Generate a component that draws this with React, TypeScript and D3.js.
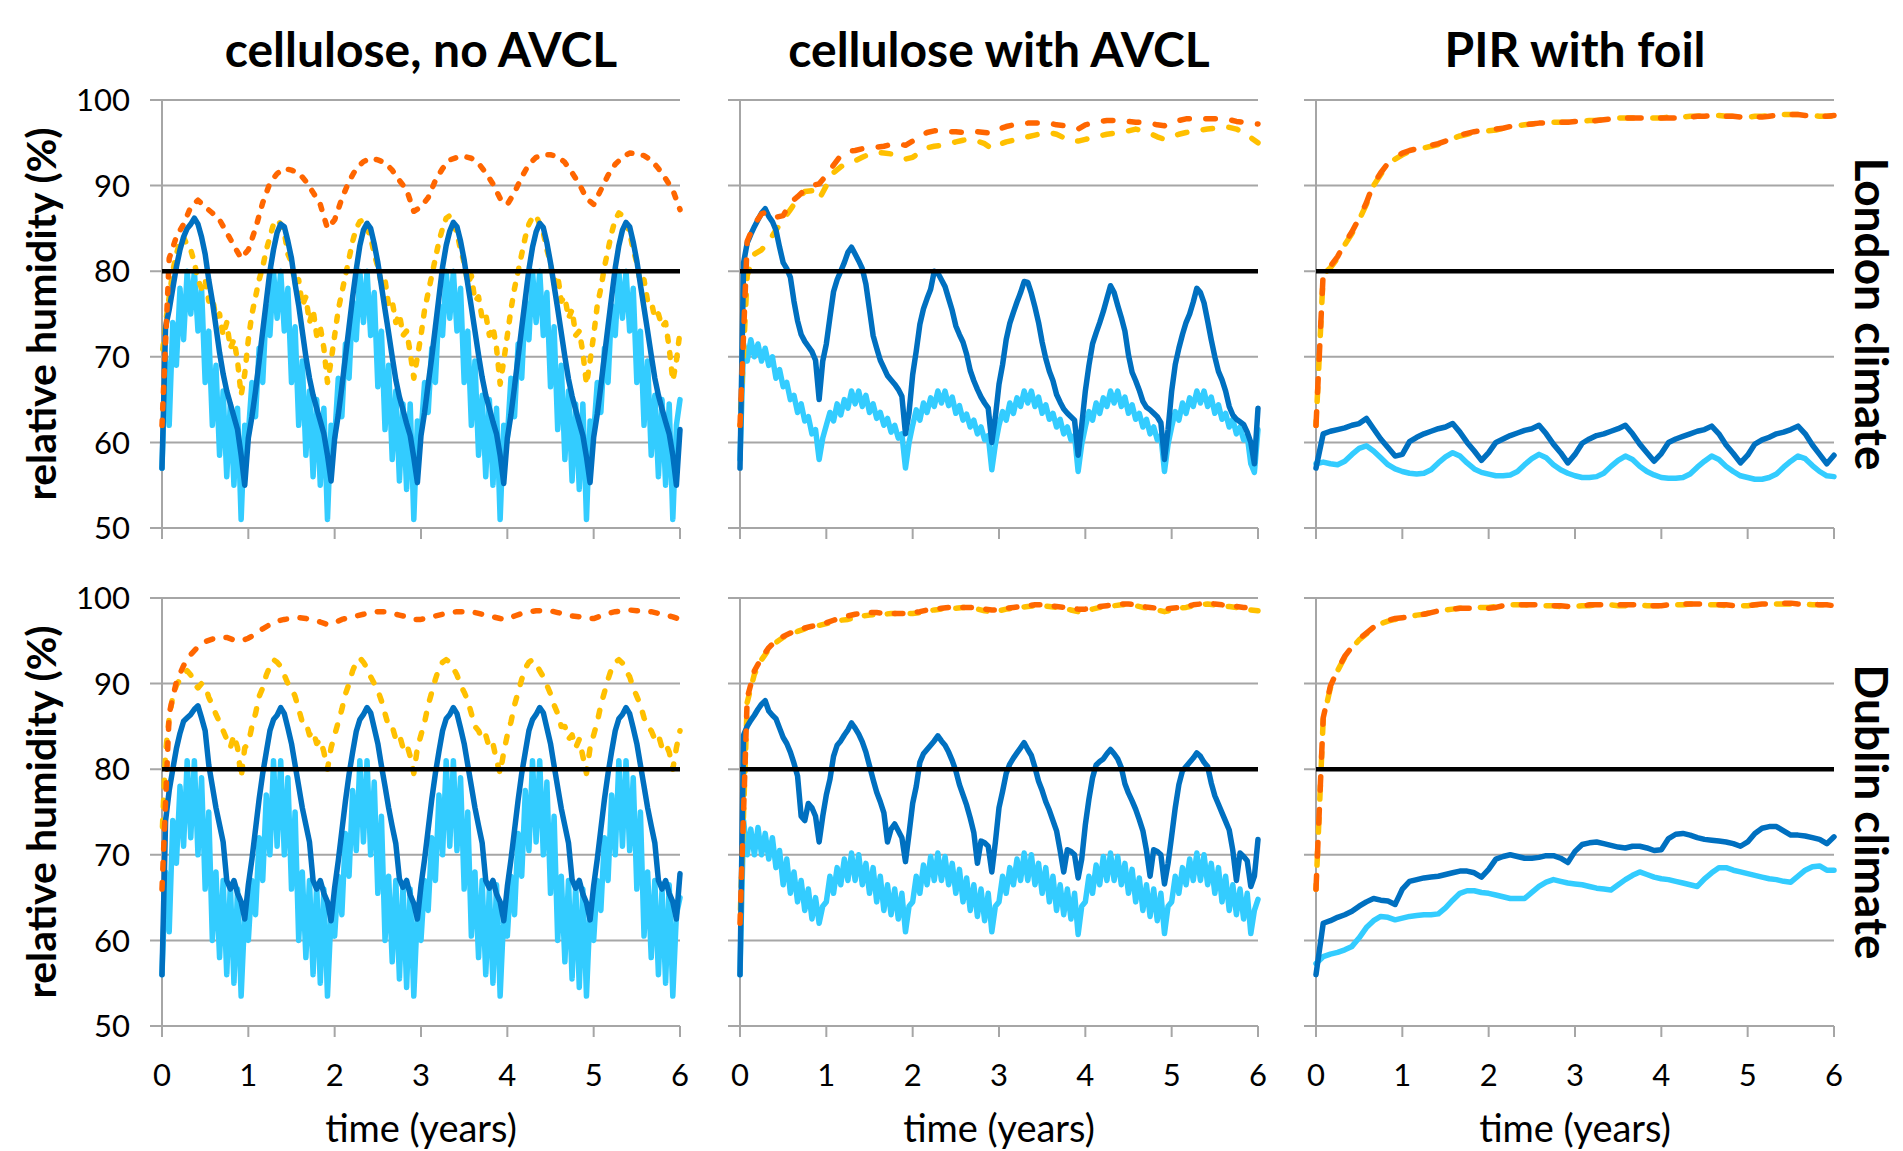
import React from 'react'
import * as d3 from 'd3'

/* figure size and the 2 x 3 grid of panels */
const width = 1903
const height = 1151
const panelLeft = [162, 740, 1316]
const panelTop = [100, 598]
const panelW = 518
const panelH = 428
const fontFamily = 'Lato, "Open Sans", sans-serif'

const columnTitles = ['cellulose, no AVCL', 'cellulose with AVCL', 'PIR with foil']
const rowTitles = ['London climate', 'Dublin climate']
const yTicks = [50, 60, 70, 80, 90, 100]
const xTicks = [0, 1, 2, 3, 4, 5, 6]
const threshold = 80
const years = 6

const colors = {
    orange: '#FF6600',
    yellow: '#FFC000',
    dark: '#0070C0',
    light: '#33CCFF',
}

/* ---------- London, cellulose no AVCL (values every 1/24 or 1/12 year) ---------- */
const lonNoAvclLight = [
    57, 70, 62, 74, 69, 78, 72, 80, 75, 80, 73, 78, 67, 73, 62, 69, 58.5, 66, 56, 64.5, 55, 64, 51, 62,
    61, 67, 63, 71, 67, 76, 72.5, 80, 74.5, 80, 73, 78, 67, 73.5, 62, 69.5, 58.5, 66, 56, 65, 55, 64, 51, 62,
    60.5, 67.5, 63, 71.5, 67.5, 76.5, 72, 80, 74, 80, 72.5, 77.5, 66.5, 73, 61.5, 69, 58, 66, 55.5, 64.5, 54.5, 64.5, 51, 62.5,
    61, 67, 63.5, 71, 67, 76, 72.5, 80, 74.5, 80, 73, 78, 67, 73, 62, 69.5, 58.5, 65.5, 56, 65, 55, 64, 51, 62,
    60.5, 67.5, 63, 71.5, 67.5, 76.5, 72, 80, 74, 80, 72.5, 77.5, 66.5, 73.5, 61.5, 69, 58, 66, 55.5, 64.5, 54.5, 64.5, 51, 62.5,
    61, 67, 63.5, 71, 67, 76, 72.5, 80, 74.5, 80, 73, 78, 67, 73, 62, 69.5, 58.5, 65.5, 56, 65, 55, 64.5, 51, 62,
    65,
]
const lonNoAvclYellow = [
    70, 74, 77, 80, 82, 83.5, 84, 83, 82.5, 81, 79, 78, 79, 76.5, 77, 74.5, 75, 72.5, 74, 71, 72, 69.5, 65.5, 68,
    72, 75, 77, 79, 80.5, 82.5, 84, 85.5, 86, 85.5, 84.5, 82, 81, 78.5, 79, 76, 77, 74, 75.5, 72.5, 73.5, 71, 67, 69.5,
    72.5, 75.5, 77.5, 79.5, 81.5, 83.5, 85, 85.8, 86, 85, 84, 82, 80.5, 78.5, 79, 76, 76.5, 74, 75, 72.5, 73, 70.5, 67.5, 70,
    72.5, 75.5, 77.5, 79.5, 81.5, 83.5, 85, 86.2, 86.5, 85.5, 84.5, 82.5, 81, 78.5, 79.5, 76.5, 77, 74.5, 75, 72.5, 73.5, 71, 66.8, 69.5,
    72.5, 75.5, 78, 80, 82, 84, 85.5, 86.3, 86.5, 85.5, 84.5, 82.5, 81, 78.5, 79.5, 76.5, 77, 74.5, 75.5, 72.5, 73, 70.5, 66.8, 69.5,
    72.5, 76, 78, 80.5, 82.5, 84.5, 86, 86.8, 86.5, 85.5, 84.5, 82.5, 81, 78.5, 79, 76.5, 76.5, 74.5, 75, 73.5, 74, 71, 67.2, 69.5,
    73,
]
const lonNoAvclDark = [
    57, 73.5, 75.5, 78, 80.5, 82.5, 84, 85, 85.5, 86.2, 85.5, 84, 82, 79, 76.5, 73.5, 70.5, 68, 66, 64.5, 63, 61.5, 58.5, 55,
    60.5, 63, 66, 69.5, 73, 76.5, 80, 82.5, 84.5, 85.5, 85.2, 83.5, 81.5, 78.5, 76, 73, 70, 67.5, 65.5, 64, 62.5, 61, 58.5, 55.5,
    60.5, 63.2, 66.5, 70, 73.5, 77, 80.2, 83, 84.8, 85.6, 85, 83.2, 81, 78.3, 75.5, 72.8, 70, 67.3, 65.3, 63.8, 62.2, 60.8, 58.2, 55.3,
    60.8, 63.5, 66.8, 70, 73.5, 77, 80.5, 83, 84.7, 85.7, 85.2, 83.5, 81.3, 78.5, 75.8, 73, 70.2, 67.6, 65.5, 64, 62.4, 61, 58.5, 55.2,
    60.5, 63.2, 66.5, 70, 73.4, 76.8, 80.2, 82.8, 84.6, 85.6, 85.1, 83.3, 81, 78.3, 75.6, 72.8, 70, 67.4, 65.4, 63.8, 62.3, 60.8, 58.3, 55.3,
    60.6, 63.3, 66.6, 70.1, 73.6, 77, 80.4, 83, 84.8, 85.7, 85.2, 83.4, 81.2, 78.4, 75.7, 73, 70.2, 67.5, 65.5, 63.9, 62.4, 61, 58.5, 55,
    61.5,
]
const lonNoAvclOrange = [
    62, 81.5, 84, 85.5, 87.5, 88.3, 87.5, 86.8, 86, 84.5, 83, 81.5,
    82.5, 85, 88, 90.3, 91.4, 92, 91.8, 91.5, 90.5, 89.2, 87.8, 85,
    86, 88.5, 90.5, 92, 92.8, 93.2, 93, 92.7, 91.8, 90.6, 89.5, 87,
    87.5, 88.6, 90.6, 92, 93, 93.3, 93.4, 93.2, 92.6, 91.5, 90.2, 88.5,
    87.8, 89.2, 91, 92.5, 93.3, 93.6, 93.6, 93.4, 92.7, 91.5, 90.2, 88.5,
    87.8, 89.5, 91.2, 92.5, 93.3, 93.8, 93.7, 93.5, 93, 92, 90.8, 89.5,
    87.2,
]

/* ---------- London, cellulose with AVCL ---------- */
const lonAvclLight = [
    58, 71.5, 69.5, 72, 70, 71.5, 69.5, 71, 69, 70, 67.5, 68.5, 66.5, 67, 65, 65.5, 63.5, 64.5, 62.5, 63, 61, 61.5, 58, 60.5,
    62, 63.5, 62.5, 64.5, 63.2, 65, 64, 66, 64.5, 66, 64.2, 65.5, 63.5, 64.5, 62.8, 63.5, 62, 62.8, 61.2, 62, 60.5, 61, 57, 60,
    62, 63.8, 62.6, 64.6, 63.5, 65.2, 64.2, 66, 64.6, 66, 64.3, 65.3, 63.4, 64.3, 62.6, 63.3, 61.8, 62.6, 61, 61.8, 60.3, 60.8, 56.8, 59.8,
    62, 63.6, 62.6, 64.6, 63.4, 65.2, 64.2, 66, 64.6, 66, 64.2, 65.3, 63.4, 64.4, 62.7, 63.4, 61.8, 62.7, 61, 61.8, 60.3, 60.8, 56.6, 59.8,
    61.8, 63.6, 62.6, 64.6, 63.4, 65.2, 64.2, 66, 64.6, 66, 64.2, 65.3, 63.4, 64.4, 62.7, 63.4, 61.8, 62.7, 61, 61.8, 60.3, 60.8, 56.6, 59.8,
    61.8, 63.6, 62.6, 64.6, 63.4, 65.2, 64.2, 66, 64.6, 66, 64.2, 65.3, 63.4, 64.4, 62.7, 63.4, 61.8, 62.7, 61, 61.8, 60.3, 60.8, 57.5, 56.5,
    61.5,
]
const lonAvclYellow = [
    62, 79.5, 82, 82.5, 83.5, 84.8, 86, 87.2, 88.4, 89.3, 89.4, 88.4,
    90, 91.5, 92.2, 92.6, 92.9, 93.3, 93.7, 93.9, 93.8, 93.7, 93.4, 93.1,
    93.3, 93.9, 94.4, 94.6, 94.7, 94.9, 95.1, 95.3, 95.4, 95.2, 94.9, 94.3,
    94.8, 95.1, 95.3, 95.5, 95.7, 95.9, 96.1, 96.2, 96, 95.6, 95.2, 95.2,
    95.4, 95.6, 95.8, 96, 96.1, 96.2, 96.4, 96.6, 96.4, 96.1, 95.7, 95.4,
    95.7, 96, 96.2, 96.4, 96.5, 96.6, 96.7, 96.9, 96.8, 96.6, 96.2, 95.6,
    95,
]
const lonAvclDark = [
    57, 81, 83.3, 84.3, 85.2, 86, 86.8, 87.3, 86.4, 85.8, 84.8, 82.8, 81, 80.3, 79.3, 76.5, 74.2, 72.6, 71.8, 71.2, 70.6, 69.6, 65, 69.5,
    71.5, 74.6, 77.6, 79, 80, 81, 82.2, 82.8, 82, 81.2, 80.3, 78.5, 75.5, 72.5, 71, 69.6, 68.7, 67.8, 67.3, 66.8, 66.2, 65.4, 61, 63.5,
    67.9, 70.7, 73.8, 75.6, 76.8, 77.9, 80, 79.8, 79, 78.2, 76.8, 75.4, 73.6, 72.6, 71.7, 70.3, 68.4, 67.2, 66.2, 65.3, 64.6, 64, 60, 63,
    66.8, 69.1, 72, 73.9, 75.2, 76.4, 77.5, 78.8, 78.7, 77.4, 75.8, 74, 71.7, 69.8, 68.3, 67.2, 65.6, 64.7, 63.9, 63.4, 63, 62.6, 58.5, 62,
    66, 69, 71.5, 72.8, 74, 75.3, 76.8, 78.3, 77.5, 76, 74.6, 73, 70.2, 68.2, 67.2, 66.1, 64.8, 64.1, 63.8, 63.4, 63, 62.3, 58, 61.5,
    66, 69.1, 71, 72.6, 74, 75, 76.4, 78, 77.5, 76.3, 74.2, 72, 70, 68.3, 67.3, 66, 64.2, 63.2, 62.7, 62.4, 62.1, 61.2, 60, 57.5,
    64,
]
const lonAvclOrange = [
    62, 83.5, 85.5, 86.7, 87, 86.3, 86.5, 88, 88.7, 89.5, 90, 90.2,
    91.2, 92.4, 93.5, 94, 94.1, 94.3, 94.4, 94.5, 94.6, 94.8, 94.9, 94.7,
    95.2, 95.8, 96.2, 96.4, 96.4, 96.3, 96.3, 96.2, 96.3, 96.3, 96.2, 96.1,
    96.6, 96.9, 97.1, 97.2, 97.3, 97.3, 97.3, 97.3, 97.1, 97, 96.8, 96.6,
    97.1, 97.3, 97.5, 97.6, 97.6, 97.6, 97.5, 97.4, 97.4, 97.3, 97.1, 97,
    97.4, 97.6, 97.8, 97.8, 97.8, 97.8, 97.8, 97.8, 97.7, 97.5, 97.4, 97.3,
    97.2,
]

/* ---------- London, PIR with foil ---------- */
const lonPirLight = [
    57.5, 57.7, 57.5, 57.4, 57.8, 58.6, 59.3, 59.6, 59, 58.2, 57.4, 56.9,
    56.6, 56.4, 56.3, 56.4, 56.8, 57.6, 58.3, 58.8, 58.4, 57.6, 56.9, 56.5,
    56.3, 56.1, 56.1, 56.2, 56.6, 57.4, 58.1, 58.6, 58.2, 57.4, 56.8, 56.4,
    56.1, 55.9, 55.9, 56, 56.4, 57.2, 57.9, 58.4, 58, 57.2, 56.6, 56.2,
    55.9, 55.8, 55.8, 55.9, 56.3, 57.1, 57.8, 58.4, 58, 57.2, 56.6, 56.1,
    55.9, 55.7, 55.7, 55.9, 56.3, 57.1, 57.8, 58.4, 58.1, 57.3, 56.6, 56.1,
    56,
]
const lonPirYellow = [
    62, 79.6, 80.4, 81.5, 83.1, 84.4, 86, 87.8, 90, 91.3, 92.4, 93.1,
    93.6, 94, 94.2, 94.4, 94.6, 94.8, 95.1, 95.5, 95.8, 96, 96.2, 96.3,
    96.4, 96.5, 96.7, 96.9, 97, 97.1, 97.2, 97.3, 97.3, 97.4, 97.4, 97.4,
    97.5, 97.5, 97.6, 97.6, 97.7, 97.8, 97.9, 97.9, 97.9, 97.9, 97.9, 97.9,
    97.9, 98, 98, 98, 98.1, 98.1, 98.2, 98.2, 98.2, 98.1, 98.1, 98,
    98, 98.1, 98.1, 98.2, 98.3, 98.3, 98.3, 98.3, 98.2, 98.2, 98.1, 98.1,
    98.1,
]
const lonPirDark = [
    57, 61, 61.3, 61.5, 61.7, 62, 62.2, 62.8, 61.6, 60.4, 59.4, 58.4,
    58.6, 60.1, 60.6, 61, 61.3, 61.6, 61.8, 62.2, 61.2, 60, 59, 57.9,
    58.8, 60, 60.4, 60.8, 61.1, 61.4, 61.6, 62, 61, 59.8, 58.8, 57.6,
    58.6, 59.9, 60.4, 60.8, 61, 61.3, 61.6, 62, 61, 59.8, 58.8, 57.8,
    58.7, 60, 60.4, 60.7, 61, 61.3, 61.5, 61.9, 61, 59.7, 58.7, 57.6,
    58.5, 59.8, 60.3, 60.6, 61, 61.2, 61.5, 61.9, 61, 59.7, 58.6, 57.5,
    58.5,
]
const lonPirOrange = [
    62, 79.8, 80.6, 81.7, 83.3, 84.6, 86.2, 88, 90.2, 91.5, 92.6, 93.3,
    93.8, 94.1, 94.3, 94.5, 94.7, 94.9, 95.2, 95.6, 95.9, 96.1, 96.3, 96.4,
    96.5, 96.6, 96.7, 96.9, 97, 97.1, 97.2, 97.3, 97.3, 97.4, 97.4, 97.4,
    97.5, 97.5, 97.5, 97.6, 97.7, 97.8, 97.8, 97.9, 97.9, 97.9, 97.9, 97.9,
    97.9, 97.9, 97.9, 98, 98, 98.1, 98.1, 98.2, 98.1, 98.1, 98.1, 98,
    98, 98, 98, 98.1, 98.2, 98.3, 98.3, 98.3, 98.2, 98.2, 98.1, 98.1,
    98.2,
]

/* ---------- Dublin, cellulose no AVCL ---------- */
const dubNoAvclLight = [
    56, 68, 61, 74, 69, 78, 71, 81, 72, 81, 70, 79, 66, 75, 60, 68, 58, 67, 56, 66.5, 55, 66, 53.5, 63,
    60, 67, 63, 72, 67, 77, 70, 81, 71, 81, 70, 79, 66, 75, 60, 68, 58, 67, 56, 66.5, 55, 66, 53.5, 63,
    60.5, 67.5, 63, 72.5, 67.5, 77.5, 70.5, 81, 71.5, 81, 70, 78.5, 65.5, 74.5, 60, 67.5, 57.5, 67, 55.5, 66.5, 54.5, 66, 53.5, 63.5,
    60, 67, 63.5, 72, 67, 77, 70, 81, 71, 81, 70.5, 79, 66, 75, 60.5, 68, 58, 67, 56, 66, 55, 66.5, 53.5, 63,
    60.5, 67.5, 63, 72.5, 67.5, 77.5, 70.5, 81, 71.5, 81, 70, 78.5, 65.5, 74.5, 60, 67.5, 57.5, 67, 55.5, 66.5, 54.5, 66, 53.5, 63.5,
    60, 67, 63.5, 72, 67, 77, 70, 81, 71, 81, 70.5, 79, 66, 75, 60.5, 68, 58, 67, 56, 66, 55, 66.5, 53.5, 63,
    65,
]
const dubNoAvclYellow = [
    72, 82, 86, 88.5, 89.8, 90.5, 91, 91.5, 91, 90, 89.5, 90, 89.8, 88.4, 87.5, 86.4, 85.5, 84.5, 83.5, 82.5, 84, 82.5, 79, 82.5,
    83, 85, 86.5, 88.5, 89.5, 91, 92, 92.8, 92.5, 92, 91, 90, 89.5, 88.5, 87, 85.5, 85.5, 84, 84.5, 83, 83.5, 82, 80, 82.5,
    84, 85.5, 87, 88.8, 90, 91.5, 92.5, 93, 92.5, 91.8, 90.8, 90, 89.2, 88, 86.5, 85, 85, 83.5, 84, 82.5, 83, 81.5, 79.5, 82.5,
    84, 85.5, 87.5, 89, 90.5, 91.8, 92.5, 92.8, 92.5, 91.8, 91, 89.8, 89, 88, 86.5, 85, 84.5, 83.5, 84, 82.5, 83, 81, 79.5, 82,
    84, 85.5, 87.5, 89, 90.5, 91.8, 92.5, 92.8, 92.3, 91.5, 90.8, 89.8, 88.8, 87.5, 86.5, 85, 85, 83.5, 84, 82.5, 83.5, 81.5, 79.5, 82.5,
    84, 85.5, 87.5, 89, 90.5, 91.8, 92.5, 92.8, 92.4, 91.5, 90.8, 89.5, 88.5, 87.5, 86, 85, 84.5, 83.5, 84, 82.5, 83, 82, 80, 82.5,
    84.5,
]
const dubNoAvclDark = [
    56, 74, 77.5, 80, 82.4, 84.2, 85.6, 86, 86.4, 87, 87.4, 86, 84.5, 80.5, 78, 75.5, 73.5, 71.5, 67, 66, 67, 65.5, 64.5, 62.5,
    66.5, 69.5, 73, 76.5, 79.5, 82, 84.5, 85.8, 86.3, 87.2, 86.5, 84.8, 83, 80.5, 78, 75.5, 73.5, 71.5, 67, 66, 67, 65.5, 64.5, 62.3,
    66.2, 69.3, 72.8, 76.3, 79.4, 82, 84.4, 85.8, 86.4, 87.2, 86.6, 84.8, 83, 80.4, 78, 75.5, 73.3, 71.3, 67.2, 66.2, 67, 65.3, 64.3, 62.5,
    66.4, 69.5, 73, 76.5, 79.5, 82.1, 84.5, 85.9, 86.4, 87.2, 86.5, 84.8, 83, 80.5, 78, 75.5, 73.4, 71.4, 67, 66.1, 67, 65.4, 64.5, 62.3,
    66.3, 69.4, 72.9, 76.4, 79.5, 82, 84.5, 85.8, 86.4, 87.2, 86.6, 84.8, 83, 80.4, 77.9, 75.4, 73.4, 71.4, 67.1, 66.1, 67, 65.4, 64.4, 62.4,
    66.4, 69.5, 73, 76.5, 79.5, 82.1, 84.5, 85.9, 86.4, 87.2, 86.5, 84.8, 83, 80.5, 78, 75.5, 73.4, 71.4, 67, 66, 67, 65.5, 64.5, 62.5,
    67.8,
]
const dubNoAvclOrange = [
    66, 86.5, 90.2, 92.1, 93.4, 94.3, 94.9, 95.2, 95.4, 95.4, 95.1, 95,
    95.3, 95.8, 96.4, 96.9, 97.3, 97.5, 97.6, 97.7, 97.6, 97.4, 97.2, 96.9,
    97.1, 97.5, 97.7, 97.9, 98.1, 98.3, 98.4, 98.4, 98.2, 98, 97.8, 97.5,
    97.5, 97.7, 97.9, 98.1, 98.3, 98.4, 98.4, 98.4, 98.2, 98, 97.8, 97.6,
    97.5, 97.9, 98.2, 98.4, 98.5, 98.5, 98.5, 98.3, 98.1, 97.9, 97.8, 97.6,
    97.6, 97.9, 98.2, 98.4, 98.5, 98.6, 98.5, 98.5, 98.4, 98.2, 98, 97.8,
    97.5,
]

/* ---------- Dublin, cellulose with AVCL ---------- */
const dubAvclLight = [
    56, 74, 70, 73, 70, 73.2, 70, 72.5, 69.5, 72, 68.5, 70.5, 66.5, 69.5, 65.5, 68, 64.5, 67, 63.5, 66, 62.5, 65, 62, 64,
    64.5, 67.5, 65.5, 68.5, 66.5, 69.5, 67, 70.2, 67, 70, 66.5, 69, 65.5, 68.5, 64.5, 67.5, 63.5, 66.5, 63, 66, 62.5, 65.5, 61, 64,
    64.5, 67.5, 65.5, 68.8, 66.5, 69.8, 67, 70.2, 67, 69.8, 66.5, 69, 65.5, 68.3, 64.5, 67.3, 63.5, 66.5, 62.8, 66, 62.3, 65.5, 61, 64,
    64.5, 67.5, 65.5, 68.5, 66.5, 69.5, 67, 70.2, 67, 70, 66.5, 69, 65.5, 68.5, 64.5, 67.5, 63.5, 66.5, 63, 66, 62.5, 65.5, 60.7, 64,
    64.5, 67.5, 65.5, 68.8, 66.5, 69.8, 67, 70.2, 67, 69.8, 66.5, 69, 65.5, 68.3, 64.5, 67.3, 63.5, 66.5, 62.8, 66, 62.3, 65.5, 60.8, 64,
    64.5, 67.5, 65.5, 68.5, 66.5, 69.5, 67, 70.2, 67, 70, 66.5, 69, 65.5, 68.5, 64.5, 67.5, 63.5, 66.5, 63, 66, 62.5, 65.5, 60.8, 63.5,
    64.8,
]
const dubAvclYellow = [
    62, 87.8, 91.1, 92.8, 94, 94.8, 95.4, 95.8, 96.1, 96.4, 96.6, 96.8,
    97, 97.2, 97.4, 97.5, 97.7, 97.9, 98, 98.1, 98.1, 98.2, 98.2, 98.2,
    98.2, 98.3, 98.5, 98.6, 98.7, 98.8, 98.8, 98.9, 98.8, 98.7, 98.5, 98.4,
    98.5, 98.7, 98.8, 98.9, 99, 99.1, 99.1, 99, 98.9, 98.8, 98.6, 98.4,
    98.5, 98.7, 98.9, 99, 99.1, 99.2, 99.2, 99.1, 98.9, 98.8, 98.6, 98.4,
    98.6, 98.8, 98.9, 99.1, 99.2, 99.3, 99.2, 99.1, 99, 98.9, 98.8, 98.6,
    98.5,
]
const dubAvclDark = [
    56, 84, 85, 85.7, 86.3, 87, 87.6, 88, 86.8, 86.3, 85.9, 84.8, 83.7, 83, 82, 80.7, 79.2, 74.5, 74, 76, 75.5, 74.5, 71.5, 74.5,
    77, 78.8, 81.5, 82.8, 83.3, 84, 84.6, 85.4, 84.8, 84.1, 83.2, 82, 80.4, 78.8, 77.3, 76.2, 74.9, 71.5, 73, 73.6, 72.8, 72, 69.2, 72.5,
    76, 78, 80.8, 81.8, 82.3, 82.8, 83.3, 83.9, 83.3, 82.8, 82, 81, 79.8, 78.2, 77, 75.8, 74.3, 72.6, 69, 71.6, 71.4, 71, 68, 71.5,
    75.5, 77.4, 79.5, 80.6, 81.3, 81.9, 82.5, 83.1, 82.3, 81.6, 80.2, 78.6, 77.5, 76.2, 75.2, 74, 72.8, 70.5, 68, 70.6, 70.4, 70, 67.3, 69.5,
    73.5, 76.5, 79, 80.5, 80.9, 81.2, 81.8, 82.3, 81.8, 81.2, 80.2, 78.3, 77.2, 76.3, 75.3, 74.1, 72.8, 70.5, 67.5, 70.6, 70.4, 70, 66.6, 69,
    72.2, 75.5, 78.2, 79.8, 80.3, 80.8, 81.3, 81.9, 81.5, 80.8, 80.3, 78.4, 76.9, 75.9, 74.9, 73.9, 72.9, 70.5, 67, 70.2, 69.8, 69.3, 66.3, 67.5,
    71.8,
]
const dubAvclOrange = [
    62, 88.3, 91.5, 93, 94.2, 95, 95.5, 95.9, 96.2, 96.5, 96.7, 96.9,
    97.1, 97.4, 97.7, 97.9, 98.1, 98.2, 98.3, 98.3, 98.2, 98.2, 98.2, 98.2,
    98.3, 98.4, 98.6, 98.7, 98.8, 98.9, 98.9, 98.9, 98.9, 98.8, 98.7, 98.6,
    98.6, 98.8, 98.9, 99, 99.1, 99.2, 99.2, 99.1, 99, 98.9, 98.8, 98.7,
    98.7, 98.8, 99, 99.1, 99.2, 99.3, 99.3, 99.2, 99, 98.9, 98.8, 98.7,
    98.8, 98.9, 99, 99.2, 99.3, 99.4, 99.3, 99.2, 99.1, 99, 98.9, 98.8,
    98.6,
]

/* ---------- Dublin, PIR with foil ---------- */
const dubPirLight = [
    57.3, 58.1, 58.4, 58.6, 58.9, 59.3, 60.3, 61.5, 62.3, 62.8, 62.7, 62.4,
    62.6, 62.8, 62.9, 63, 63, 63.1, 63.8, 64.7, 65.5, 65.8, 65.8, 65.6,
    65.5, 65.3, 65.1, 64.9, 64.9, 64.9, 65.6, 66.3, 66.8, 67.1, 66.9, 66.7,
    66.6, 66.5, 66.3, 66.1, 66, 65.9, 66.5, 67.1, 67.6, 68, 67.7, 67.4,
    67.2, 67.1, 66.9, 66.7, 66.5, 66.3, 67.2, 67.9, 68.5, 68.5, 68.2, 68,
    67.8, 67.6, 67.4, 67.2, 67.1, 66.9, 66.8, 67.5, 68.2, 68.6, 68.7, 68.2,
    68.2,
]
const dubPirYellow = [
    66, 85.8, 89.5, 91.5, 93.1, 94.2, 95.1, 95.8, 96.5, 97, 97.3, 97.5,
    97.6, 97.8, 98, 98.1, 98.3, 98.5, 98.6, 98.7, 98.8, 98.8, 98.8, 98.9,
    98.9, 99, 99.1, 99.2, 99.2, 99.2, 99.1, 99.1, 99.1, 99.1, 99, 99,
    99, 99.1, 99.1, 99.2, 99.2, 99.2, 99.1, 99.1, 99.2, 99.2, 99.1, 99.1,
    99.1, 99.1, 99.2, 99.2, 99.3, 99.3, 99.2, 99.2, 99.2, 99.1, 99.1, 99.1,
    99.1, 99.2, 99.2, 99.3, 99.3, 99.3, 99.3, 99.3, 99.3, 99.2, 99.2, 99.2,
    99.1,
]
const dubPirDark = [
    56, 62, 62.3, 62.7, 63, 63.4, 64, 64.5, 64.9, 64.7, 64.6, 64.2,
    66, 66.9, 67.1, 67.3, 67.4, 67.5, 67.7, 67.9, 68.1, 68.1, 67.9, 67.4,
    68.3, 69.5, 69.8, 70, 69.8, 69.6, 69.6, 69.7, 69.9, 69.9, 69.6, 69.1,
    70.4, 71.2, 71.4, 71.5, 71.3, 71.1, 70.9, 70.8, 71, 71, 70.8, 70.5,
    70.6, 71.9, 72.4, 72.5, 72.3, 72, 71.8, 71.7, 71.6, 71.5, 71.3, 71,
    71.5, 72.5, 73.1, 73.3, 73.3, 72.8, 72.3, 72.3, 72.2, 72, 71.8, 71.3,
    72.1,
]
const dubPirOrange = [
    66, 86, 89.7, 91.6, 93.2, 94.3, 95.2, 95.9, 96.6, 97.1, 97.4, 97.6,
    97.7, 97.8, 98, 98.1, 98.3, 98.5, 98.6, 98.7, 98.8, 98.8, 98.8, 98.8,
    98.8, 98.9, 99.1, 99.2, 99.2, 99.2, 99.2, 99.2, 99.2, 99.1, 99.1, 99,
    99, 99.1, 99.2, 99.2, 99.2, 99.2, 99.2, 99.2, 99.2, 99.2, 99.1, 99.1,
    99.1, 99.2, 99.2, 99.3, 99.3, 99.3, 99.3, 99.2, 99.2, 99.2, 99.1, 99.1,
    99.1, 99.2, 99.3, 99.3, 99.4, 99.4, 99.4, 99.3, 99.3, 99.3, 99.2, 99.2,
    99.1,
]

/* one entry per panel, with the dash pattern of its dashed lines */
const panels = [
    { row: 0, col: 0, dash: '5 11.5', light: lonNoAvclLight, yellow: lonNoAvclYellow, dark: lonNoAvclDark, orange: lonNoAvclOrange },
    { row: 0, col: 1, dash: '9.5 16.5', light: lonAvclLight, yellow: lonAvclYellow, dark: lonAvclDark, orange: lonAvclOrange },
    { row: 0, col: 2, dash: '13.5 19.5', light: lonPirLight, yellow: lonPirYellow, dark: lonPirDark, orange: lonPirOrange },
    { row: 1, col: 0, dash: '6.5 13.5', light: dubNoAvclLight, yellow: dubNoAvclYellow, dark: dubNoAvclDark, orange: dubNoAvclOrange },
    { row: 1, col: 1, dash: '8.5 14.5', light: dubAvclLight, yellow: dubAvclYellow, dark: dubAvclDark, orange: dubAvclOrange },
    { row: 1, col: 2, dash: '13.5 19.5', light: dubPirLight, yellow: dubPirYellow, dark: dubPirDark, orange: dubPirOrange },
]

/* values are evenly spaced over the six years */
const toPoints = (values: number[]): [number, number][] =>
    values.map((v, i) => [(i * years) / (values.length - 1), v])

const lineWidth = 5.5
const gridColor = '#A6A6A6'

function Panel({ p }: { p: (typeof panels)[number] }) {
    const x0 = panelLeft[p.col]
    const y0 = panelTop[p.row]
    const x = d3.scaleLinear().domain([0, years]).range([x0, x0 + panelW])
    const y = d3.scaleLinear().domain([50, 100]).range([y0 + panelH, y0])
    const line = d3
        .line<[number, number]>()
        .x((d) => x(d[0]))
        .y((d) => y(d[1]))

    const series = [
        { key: 'light', values: p.light, color: colors.light, dashed: false },
        { key: 'yellow', values: p.yellow, color: colors.yellow, dashed: true },
        { key: 'dark', values: p.dark, color: colors.dark, dashed: false },
        { key: 'orange', values: p.orange, color: colors.orange, dashed: true },
    ]

    return (
        <g>
            {/* horizontal gridlines, reaching a little left of the axis */}
            {yTicks.map((t) => (
                <line key={t} x1={x0 - 12} x2={x(years)} y1={y(t)} y2={y(t)} stroke={gridColor} strokeWidth={2} />
            ))}
            {/* vertical axis and x ticks */}
            <line x1={x(0)} x2={x(0)} y1={y(100)} y2={y(50) + 11} stroke={gridColor} strokeWidth={2} />
            {xTicks.map((t) => (
                <line key={t} x1={x(t)} x2={x(t)} y1={y(50)} y2={y(50) + 11} stroke={gridColor} strokeWidth={2} />
            ))}

            {/* series */}
            {series.map((s) => (
                <path
                    key={s.key}
                    d={line(toPoints(s.values)) || ''}
                    fill="none"
                    stroke={s.color}
                    strokeWidth={lineWidth}
                    strokeLinejoin="round"
                    strokeLinecap="round"
                    strokeDasharray={s.dashed ? p.dash : undefined}
                    strokeDashoffset={s.key === 'yellow' ? 9 : 0}
                />
            ))}

            {/* 80% limit line */}
            <line x1={x(0)} x2={x(years)} y1={y(threshold)} y2={y(threshold)} stroke="#000" strokeWidth={4.5} />

            {/* tick labels: y on the first column, x on the bottom row */}
            {p.col === 0 &&
                yTicks.map((t) => (
                    <text key={t} x={x0 - 32} y={y(t)} dy="0.36em" textAnchor="end" fontSize={31} fill="#000">
                        {t}
                    </text>
                ))}
            {p.row === 1 &&
                xTicks.map((t) => (
                    <text key={t} x={x(t)} y={1086} textAnchor="middle" fontSize={31} fill="#000">
                        {t}
                    </text>
                ))}
            {p.row === 1 && (
                <text x={x(years / 2)} y={1142} textAnchor="middle" fontSize={38} fill="#000">
                    time (years)
                </text>
            )}
            {p.col === 0 && (
                <text
                    transform={`translate(56, ${y(75)}) rotate(-90)`}
                    textAnchor="middle"
                    fontSize={41}
                    fontWeight="bold"
                    fill="#000"
                >
                    relative humidity (%)
                </text>
            )}
            {p.row === 0 && (
                <text x={x(years / 2)} y={67} textAnchor="middle" fontSize={48} fontWeight="bold" fill="#000">
                    {columnTitles[p.col]}
                </text>
            )}
            {p.col === 2 && (
                <text
                    transform={`translate(1855, ${y(75)}) rotate(90)`}
                    textAnchor="middle"
                    fontSize={46}
                    fontWeight="bold"
                    fill="#000"
                >
                    {rowTitles[p.row]}
                </text>
            )}
        </g>
    )
}

export default function App() {
    return (
        <svg
            width={width}
            height={height}
            style={{ position: 'absolute', left: 0, top: 0, background: '#fff' }}
            fontFamily={fontFamily}
        >
            <rect width={width} height={height} fill="#fff" />
            {panels.map((p, i) => (
                <Panel key={i} p={p} />
            ))}
        </svg>
    )
}
